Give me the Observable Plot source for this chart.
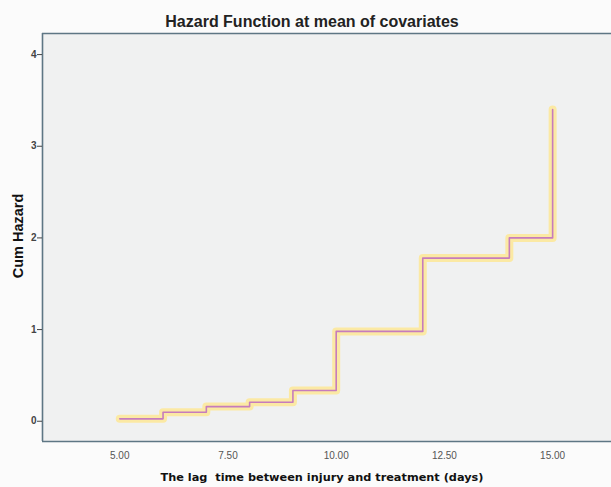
<!DOCTYPE html>
<html>
<head>
<meta charset="utf-8">
<script src="https://cdn.jsdelivr.net/npm/d3@7"></script>
<script src="https://cdn.jsdelivr.net/npm/@observablehq/plot@0.6"></script>
<style>
  html, body { margin: 0; padding: 0; background: #fbfbfb; }
  #chart { width: 611px; height: 487px; overflow: hidden; }
</style>
</head>
<body>
<div id="chart"></div>
<script>
const days = [5, 6, 7, 8, 9, 10, 12, 14, 15];
const cumHazard = [0.026, 0.098, 0.16, 0.207, 0.335, 0.98, 1.78, 2.0, 3.40];
const xTicks = [5, 7.5, 10, 12.5, 15];
const yTicks = [0, 1, 2, 3, 4];
const xDomain = [3.215, 16.36];
const yDomain = [-0.221, 4.23];
const title = "Hazard Function at mean of covariates";
const xLabel = "The lag  time between injury and treatment (days)";
const yLabel = "Cum Hazard";

const data = days.map((d, i) => ({x: d, y: cumHazard[i]}));

const chart = Plot.plot({
  width: 611,
  height: 487,
  marginLeft: 42,
  marginRight: 0,
  marginTop: 33,
  marginBottom: 46,
  style: {fontFamily: "Liberation Sans, Arial, sans-serif", background: "#fbfbfb", overflow: "visible"},
  x: {domain: xDomain},
  y: {domain: yDomain},
  marks: [
    Plot.frame({fill: "#f0f1f1", stroke: null}),
    Plot.line(data, {x: "x", y: "y", curve: "step-after", stroke: "#fbe9a4", strokeWidth: 8, strokeLinecap: "round", strokeLinejoin: "round"}),
    Plot.line(data, {x: "x", y: "y", curve: "step-after", stroke: "#c67cbc", strokeWidth: 1.6}),
    Plot.ruleX([xDomain[0]], {stroke: "#5e7684", strokeWidth: 1.6}),
    Plot.ruleY([yDomain[0]], {stroke: "#5e7684", strokeWidth: 1.6}),
    Plot.ruleY([yDomain[1]], {stroke: "#5e7684", strokeWidth: 1.6}),
    Plot.axisY(yTicks, {ticks: yTicks, tickSize: 5, tickPadding: 1, stroke: "#444", fill: "#444", fontSize: 10, fontWeight: "bold", label: null, tickFormat: d3.format("d")}),
    Plot.axisX(xTicks, {ticks: xTicks, tickSize: 0, tickPadding: 10, fill: "#555", fontSize: 10, label: null, tickFormat: d3.format(".2f")}),
    Plot.text([title], {frameAnchor: "top", dy: -18, dx: -15, fontSize: 16, fontWeight: "bold", fill: "#222"}),
    Plot.text([xLabel], {frameAnchor: "bottom", dy: 39, dx: -5, fontSize: 11.3, fontWeight: "bold", fill: "#111", fontFamily: "DejaVu Sans, sans-serif"}),
    Plot.text([yLabel], {frameAnchor: "left", textAnchor: "middle", dx: -24, dy: -1.5, rotate: -90, fontSize: 14.5, fontWeight: "bold", fill: "#111"})
  ]
});
document.getElementById("chart").appendChild(chart);
</script>
</body>
</html>
